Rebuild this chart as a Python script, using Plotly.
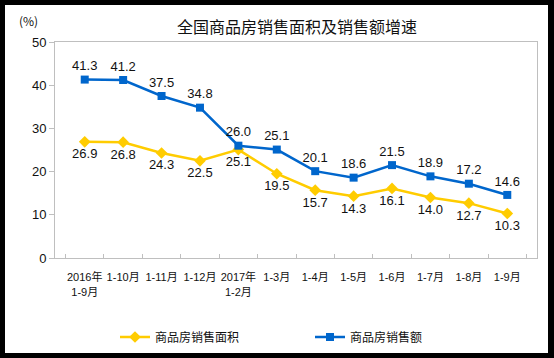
import plotly.graph_objects as go

categories = ["2016年<br>1-9月", "1-10月", "1-11月", "1-12月", "2017年<br>1-2月", "1-3月",
              "1-4月", "1-5月", "1-6月", "1-7月", "1-8月", "1-9月"]
area_growth = [26.9, 26.8, 24.3, 22.5, 25.1, 19.5, 15.7, 14.3, 16.1, 14.0, 12.7, 10.3]
sales_growth = [41.3, 41.2, 37.5, 34.8, 26.0, 25.1, 20.1, 18.6, 21.5, 18.9, 17.2, 14.6]
y_ticks = [0, 10, 20, 30, 40, 50]

FONT = "Liberation Sans, Arial, Noto Sans CJK SC"
CJK = "Noto Sans CJK SC, Liberation Sans"
TICKF = "Liberation Sans, Noto Sans CJK SC"
YELLOW = "#FFCC00"
BLUE = "#0066CC"

W, H = 554, 358
ML, MR, MT, MB = 55, 17, 42, 100
pw, ph = W - ML - MR, H - MT - MB

def px_x(p):
    return (p - ML) / pw

def px_y(p):
    return (H - MB - p) / ph

fig = go.Figure()
fig.add_trace(go.Scatter(
    x=categories, y=area_growth, name="商品房销售面积", mode="lines+markers+text",
    line=dict(color=YELLOW, width=2.5), marker=dict(symbol="diamond", size=9, color=YELLOW),
    text=[f"{v:.1f}" for v in area_growth], textposition="bottom center",
    textfont=dict(family=FONT, size=13, color="#111111")))
fig.add_trace(go.Scatter(
    x=categories, y=sales_growth, name="商品房销售额", mode="lines+markers+text",
    line=dict(color=BLUE, width=2.5), marker=dict(symbol="square", size=8, color=BLUE),
    text=[f"{v:.1f}" for v in sales_growth], textposition="top center",
    textfont=dict(family=FONT, size=13, color="#111111")))

fig.update_layout(
    width=W, height=H,
    margin=dict(l=ML, r=MR, t=MT, b=MB, autoexpand=False),
    paper_bgcolor="black", plot_bgcolor="white",
    font=dict(family=CJK, size=12, color="#111111"),
    title=dict(text="全国商品房销售面积及销售额增速", x=297 / W, xanchor="center",
               y=1 - 27 / H, yanchor="middle", font=dict(family=CJK, size=16, color="#111111")),
    shapes=[dict(type="rect", xref="paper", yref="paper", layer="below",
                 x0=px_x(5), x1=px_x(548), y0=px_y(353), y1=px_y(5),
                 fillcolor="white", line=dict(width=0))],
    annotations=[dict(text="(%)", xref="paper", yref="paper", x=px_x(28), y=px_y(20),
                      xanchor="center", yanchor="middle", showarrow=False,
                      font=dict(family=CJK, size=12, color="#111111"))],
    showlegend=True,
    legend=dict(orientation="h", x=px_x(115), xanchor="left", y=px_y(337), yanchor="middle",
                entrywidth=150, entrywidthmode="pixels",
                bgcolor="rgba(0,0,0,0)", font=dict(family=CJK, size=12, color="#111111")),
)
fig.update_xaxes(type="category", showline=True, mirror=True, linecolor="#BFBFBF", linewidth=1,
                 ticks="inside", tickson="boundaries", ticklen=4, tickcolor="#BFBFBF",
                 ticklabelstandoff=9,
                 tickangle=0, showgrid=False, tickfont=dict(family=TICKF, size=11, color="#111111"),
                 fixedrange=True)
fig.update_yaxes(range=[0, 50], tickvals=y_ticks, showline=True, mirror=True, linecolor="#BFBFBF",
                 linewidth=1, ticks="outside", ticklen=5, tickcolor="#BFBFBF", showgrid=False,
                 zeroline=False, tickfont=dict(family=FONT, size=13, color="#111111"), fixedrange=True)

fig.write_html("out.html", config={"displayModeBar": False},
               post_script="document.body.style.margin='0';")
